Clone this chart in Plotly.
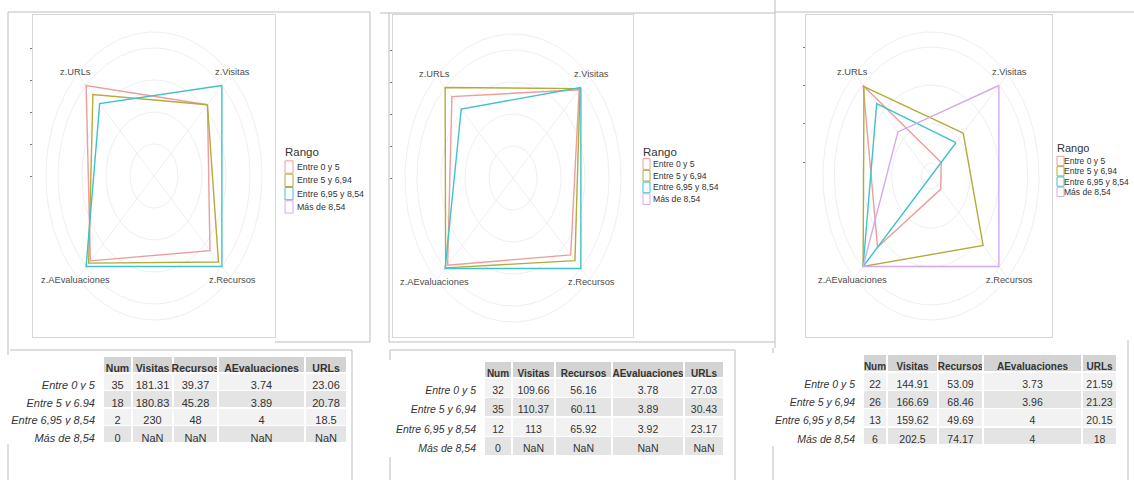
import numpy as np
import plotly.graph_objects as go

W, H = 1134, 480

# ---------------- data ----------------
groups = ["Entre 0 y 5", "Entre 5 y 6,94", "Entre 6,95 y 8,54", "Más de 8,54"]
radar_axes = ["z.Visitas", "z.URLs", "z.AEvaluaciones", "z.Recursos"]
table_cols = ["Num", "Visitas", "Recursos", "AEvaluaciones", "URLs"]

# radar values (radial units), order = radar_axes
c1_g1 = [3.15, 4.0, 3.75, 3.3]
c1_g2 = [3.15, 3.6, 3.85, 3.8]
c1_g3 = [4.0, 3.2, 4.0, 4.0]
c1_g4 = [None, None, None, None]

c2_g1 = [3.9, 3.6, 3.85, 3.4]
c2_g2 = [3.95, 4.0, 3.97, 3.65]
c2_g3 = [4.0, 3.05, 4.0, 4.0]
c2_g4 = [None, None, None, None]

c3_g1 = [0.6, 4.0, 3.15, 0.58]
c3_g2 = [1.9, 3.95, 4.0, 3.07]
c3_g3 = [1.47, 3.2, 4.0, 0.0]
c3_g4 = [4.0, 1.95, 4.0, 4.0]

c1_breaks = [0, 1, 2, 3, 4]
c2_breaks = [0, 1, 2, 3, 4]
c3_breaks = [0.41, 1.63, 2.84, 4.03]

NaN = float("nan")
t1_num = [35, 18, 2, 0]
t1_visitas = [181.31, 180.83, 230, NaN]
t1_recursos = [39.37, 45.28, 48, NaN]
t1_aeval = [3.74, 3.89, 4, NaN]
t1_urls = [23.06, 20.78, 18.5, NaN]

t2_num = [32, 35, 12, 0]
t2_visitas = [109.66, 110.37, 113, NaN]
t2_recursos = [56.16, 60.11, 65.92, NaN]
t2_aeval = [3.78, 3.89, 3.92, NaN]
t2_urls = [27.03, 30.43, 23.17, NaN]

t3_num = [22, 26, 13, 6]
t3_visitas = [144.91, 166.69, 159.62, 202.5]
t3_recursos = [53.09, 68.46, 49.69, 74.17]
t3_aeval = [3.73, 3.96, 4, 4]
t3_urls = [21.59, 21.23, 20.15, 18]

# ---------------- style ----------------
colors = ["#EE9C9C", "#B3AB3C", "#3EC3C7", "#D4A8F2"]
angles = np.deg2rad([45, 135, 225, 315])
SANS = "Liberation Sans, Arial, sans-serif"
UX, UY = 24.0, 32.0


def px(x):
    return x / W


def py(y):
    return 1 - y / H


charts = [
    dict(series=[c1_g1, c1_g2, c1_g3, c1_g4], breaks=c1_breaks, grid=[1, 2, 3, 4, 4.5],
         cx=154, cy=176, left=33, right=275, top=15, bottom=337,
         leg=dict(x=283, ty=152, y0=167, dy=13.3, kw=8, tx=295, fs=8.8, tfs=11.5)),
    dict(series=[c2_g1, c2_g2, c2_g3, c2_g4], breaks=c2_breaks, grid=[1, 2, 3, 4, 4.5],
         cx=513, cy=178, left=393, right=633, top=15, bottom=337,
         leg=dict(x=641, ty=152, y0=164, dy=11.7, kw=7, tx=651, fs=8.6, tfs=11.5)),
    dict(series=[c3_g1, c3_g2, c3_g3, c3_g4], breaks=c3_breaks, grid=[0.41, 1.63, 2.84, 4.03, 4.5],
         cx=931, cy=176, left=806, right=1052, top=15, bottom=337,
         leg=dict(x=1055, ty=148, y0=161, dy=10.3, kw=7, tx=1062, fs=8.5, tfs=11)),
]

fig = go.Figure()
annotations = []
shapes = []
layout_axes = {}

tt = np.linspace(0, 2 * np.pi, 241)

for i, ch in enumerate(charts):
    n = "" if i == 0 else str(i + 1)
    xa, ya = "x" + n, "y" + n
    for r in ch["grid"]:
        fig.add_trace(go.Scatter(x=r * np.cos(tt), y=r * np.sin(tt), mode="lines",
                                 line=dict(color="#EFEFEF", width=1), hoverinfo="skip",
                                 showlegend=False, xaxis=xa, yaxis=ya))
    for a in angles:
        fig.add_trace(go.Scatter(x=[0, 4.5 * np.cos(a)], y=[0, 4.5 * np.sin(a)], mode="lines",
                                 line=dict(color="#EFEFEF", width=1), hoverinfo="skip",
                                 showlegend=False, xaxis=xa, yaxis=ya))
    for g, vals in enumerate(ch["series"]):
        if all(v is None for v in vals):
            continue
        r = np.array(vals + [vals[0]], dtype=float)
        a = np.concatenate([angles, angles[:1]])
        fig.add_trace(go.Scatter(x=r * np.cos(a), y=r * np.sin(a), mode="lines",
                                 line=dict(color=colors[g], width=1.4), name=groups[g],
                                 showlegend=False, xaxis=xa, yaxis=ya))
    for lab, a in zip(radar_axes, angles):
        annotations.append(dict(x=4.6 * np.cos(a), y=4.6 * np.sin(a), xref=xa, yref=ya,
                                text=lab, showarrow=False, xanchor="center", yanchor="middle",
                                font=dict(family=SANS, size=9.3, color="#4D4D4D")))
    xr = [(ch["left"] - ch["cx"]) / UX, (ch["right"] - ch["cx"]) / UX]
    yr = [(ch["cy"] - ch["bottom"]) / UY, (ch["cy"] - ch["top"]) / UY]
    layout_axes["xaxis" + n] = dict(domain=[px(ch["left"]), px(ch["right"])], range=xr,
                                    anchor=ya, showgrid=False, zeroline=False,
                                    showticklabels=False, ticks="", showline=True,
                                    mirror=True, linecolor="#D6D6D6", linewidth=1,
                                    fixedrange=True)
    layout_axes["yaxis" + n] = dict(domain=[py(ch["bottom"]), py(ch["top"])], range=yr,
                                    anchor=xa, showgrid=False, zeroline=False,
                                    showticklabels=False, ticks="outside", ticklen=2,
                                    tickwidth=1, tickcolor="#777777",
                                    tickvals=ch["breaks"], showline=True, mirror=True,
                                    linecolor="#D6D6D6", linewidth=1, fixedrange=True)
    lg = ch["leg"]
    annotations.append(dict(x=px(lg["x"]), y=py(lg["ty"]), xref="paper", yref="paper",
                            text="Rango", showarrow=False, xanchor="left", yanchor="middle",
                            font=dict(family=SANS, size=lg["tfs"], color="#333333")))
    for g, name in enumerate(groups):
        yc = lg["y0"] + g * lg["dy"]
        shapes.append(dict(type="rect", xref="paper", yref="paper",
                           x0=px(lg["x"] + 2), x1=px(lg["x"] + 2 + lg["kw"]),
                           y0=py(yc - lg["dy"] / 2 + 0.5), y1=py(yc + lg["dy"] / 2 - 0.5),
                           line=dict(color=colors[g], width=1), fillcolor="white"))
        annotations.append(dict(x=px(lg["tx"]), y=py(yc), xref="paper", yref="paper",
                                text=name, showarrow=False, xanchor="left", yanchor="middle",
                                font=dict(family=SANS, size=lg["fs"], color="#333333")))


# ---------------- tables ----------------
def fmt(v):
    if isinstance(v, float) and np.isnan(v):
        return "NaN"
    return f"{v:g}"


row_fill = ["#F2F2F2", "#E4E4E4", "#F2F2F2", "#E4E4E4"]

tables = [
    dict(cols=[t1_num, t1_visitas, t1_recursos, t1_aeval, t1_urls],
         edges=[0, 103, 132, 173, 218, 305, 347], top=356, hh=17, rh=17.5, hs=10.5, ds=11),
    dict(cols=[t2_num, t2_visitas, t2_recursos, t2_aeval, t2_urls],
         edges=[380, 484, 512, 555, 612, 684, 724], top=361, hh=17, rh=19.5, hs=10, ds=10.5),
    dict(cols=[t3_num, t3_visitas, t3_recursos, t3_aeval, t3_urls],
         edges=[770, 863, 887, 938, 983, 1082, 1117], top=354, hh=18, rh=18.3, hs=10, ds=10.5),
]

for tb in tables:
    e = tb["edges"]
    widths = [e[k + 1] - e[k] for k in range(len(e) - 1)]
    names = [g.replace(" ", "\u00a0") for g in groups]
    values = [names] + [[fmt(v) for v in c] for c in tb["cols"]]
    fig.add_trace(go.Table(
        domain=dict(x=[px(e[0]), px(e[-1])], y=[0, py(tb["top"])]),
        columnwidth=widths,
        header=dict(values=[""] + table_cols,
                    fill_color=["white"] + ["#D3D3D3"] * 5,
                    line=dict(color="white", width=1.5),
                    align=["right"] + ["center"] * 5, height=tb["hh"],
                    font=dict(family=SANS, size=tb["hs"], color="#333333", weight="bold")),
        cells=dict(values=values,
                   fill_color=[["white"] * 4] + [row_fill] * 5,
                   line=dict(color="white", width=1.5),
                   align=["right"] + ["center"] * 5, height=tb["rh"],
                   font=dict(family=SANS, size=tb["ds"], color="#333333",
                             style=["italic"] + ["normal"] * 5)),
    ))

# ---------------- frames ----------------
frame_lines = [
    (8, 12, 8, 480), (8, 12, 370, 12), (370, 12, 370, 342), (275, 342, 370, 342),
    (10, 350, 352, 350), (352, 350, 352, 480),
    (380, 13, 775, 13), (389, 13, 389, 342), (389, 342, 775, 342),
    (390, 350, 735, 350), (390, 350, 390, 480), (735, 350, 735, 480),
    (775, 0, 775, 348), (775, 12, 1134, 12), (773, 348, 773, 480),
    (1128, 340, 1128, 480),
]
for x0, y0, x1, y1 in frame_lines:
    shapes.append(dict(type="line", xref="paper", yref="paper", layer="below",
                       x0=px(x0), y0=py(y0), x1=px(x1), y1=py(y1),
                       line=dict(color="#BDBDBD", width=1)))

fig.update_layout(width=W, height=H, margin=dict(l=0, r=0, t=0, b=0),
                  paper_bgcolor="white", plot_bgcolor="white", showlegend=False,
                  annotations=annotations, shapes=shapes, **layout_axes)

fig.write_html("out.html", config={"displayModeBar": False},
               post_script="document.body.style.margin='0';document.body.style.overflow='hidden';")
